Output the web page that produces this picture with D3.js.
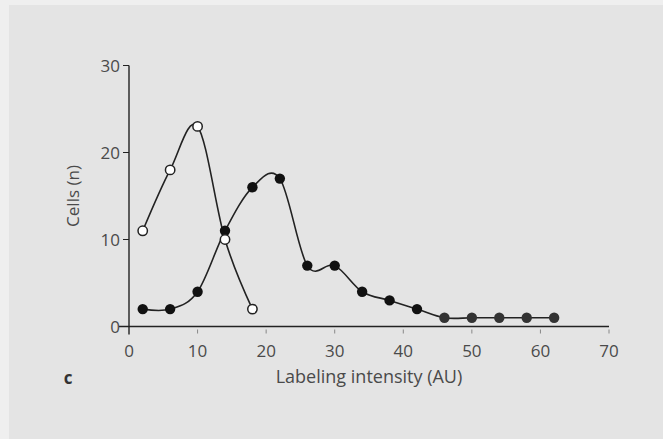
<!DOCTYPE html>
<html>
<head>
<meta charset="utf-8">
<script src="https://cdn.jsdelivr.net/npm/d3@7"></script>
<style>
  body { margin: 0; background: #efefef; }
  svg { display: block; font-family: "Open Sans", "Noto Sans", sans-serif; }
</style>
</head>
<body>
<svg id="chart"></svg>
<script>
// Data
const openX = [2, 6, 10, 14, 18];
const openY = [11, 18, 23, 10, 2];
const filledX = [2, 6, 10, 14, 18, 22, 26, 30, 34, 38, 42, 46, 50, 54, 58, 62];
const filledY = [2, 2, 4, 11, 16, 17, 7, 7, 4, 3, 2, 1, 1, 1, 1, 1];
const xTicks = [0, 10, 20, 30, 40, 50, 60, 70];
const yTicks = [0, 10, 20, 30];

const width = 663, height = 439;
const svg = d3.select("#chart")
  .attr("width", width)
  .attr("height", height);

// panel background
svg.append("rect")
  .attr("width", width).attr("height", height)
  .attr("fill", "#efefef");
svg.append("rect")
  .attr("x", 9).attr("y", 5)
  .attr("width", width - 9).attr("height", height - 5)
  .attr("fill", "#e4e4e4");

const x = d3.scaleLinear().domain([0, 70]).range([129, 609]);
const y = d3.scaleLinear().domain([0, 30]).range([326.5, 65.5]);

const ink = "#222";
const labelColor = "#4a4a4a";

// x axis
const gx = svg.append("g").attr("transform", `translate(0,${y(0)})`);
gx.append("line")
  .attr("x1", x(0) - 10).attr("x2", x(70))
  .attr("stroke", ink).attr("stroke-width", 1.6);
gx.selectAll(".xt").data(xTicks.slice(1))
  .enter().append("line")
  .attr("x1", d => x(d)).attr("x2", d => x(d))
  .attr("y1", 3).attr("y2", 7)
  .attr("stroke", "#888").attr("stroke-width", 1);
gx.selectAll(".xl").data(xTicks)
  .enter().append("text")
  .attr("x", d => x(d))
  .attr("y", 30)
  .attr("text-anchor", "middle")
  .attr("font-size", 17)
  .attr("fill", labelColor)
  .text(d => d);

// y axis
const gy = svg.append("g").attr("transform", `translate(${x(0)},0)`);
gy.append("line")
  .attr("y1", y(30)).attr("y2", y(0) + 8)
  .attr("stroke", ink).attr("stroke-width", 1.4);
gy.selectAll(".yt").data(yTicks)
  .enter().append("line")
  .attr("x1", -6).attr("x2", 0)
  .attr("y1", d => y(d)).attr("y2", d => y(d))
  .attr("stroke", ink).attr("stroke-width", 1);
gy.selectAll(".yl").data(yTicks)
  .enter().append("text")
  .attr("x", -9)
  .attr("y", d => y(d))
  .attr("dy", "0.36em")
  .attr("text-anchor", "end")
  .attr("font-size", 17)
  .attr("fill", labelColor)
  .text(d => d);

// axis titles
svg.append("text")
  .attr("transform", `translate(79,${(y(0) + y(30)) / 2}) rotate(-90)`)
  .attr("text-anchor", "middle")
  .attr("font-size", 17)
  .attr("fill", labelColor)
  .text("Cells (n)");
svg.append("text")
  .attr("x", 369)
  .attr("y", 383)
  .attr("text-anchor", "middle")
  .attr("font-size", 18)
  .attr("fill", labelColor)
  .text("Labeling intensity (AU)");
svg.append("text")
  .attr("x", 68)
  .attr("y", 384)
  .attr("text-anchor", "middle")
  .attr("font-size", 17)
  .attr("font-weight", "bold")
  .attr("fill", "#333")
  .text("c");

// curves
const line = d3.line()
  .x(d => x(d[0]))
  .y(d => y(d[1]))
  .curve(d3.curveCatmullRom.alpha(0));

const openPts = openX.map((d, i) => [d, openY[i]]);
const filledPts = filledX.map((d, i) => [d, filledY[i]]);

svg.append("path")
  .datum(filledPts)
  .attr("d", line)
  .attr("fill", "none")
  .attr("stroke", ink)
  .attr("stroke-width", 1.6);
svg.append("path")
  .datum(openPts)
  .attr("d", line)
  .attr("fill", "none")
  .attr("stroke", ink)
  .attr("stroke-width", 1.6);

svg.selectAll(".filled").data(filledPts)
  .enter().append("circle")
  .attr("cx", d => x(d[0]))
  .attr("cy", d => y(d[1]))
  .attr("r", 5.2)
  .attr("fill", d => d[0] >= 46 ? "#333" : "#111");

svg.selectAll(".open").data(openPts)
  .enter().append("circle")
  .attr("cx", d => x(d[0]))
  .attr("cy", d => y(d[1]))
  .attr("r", 4.7)
  .attr("fill", "#fff")
  .attr("stroke", ink)
  .attr("stroke-width", 1.5);
</script>
</body>
</html>
